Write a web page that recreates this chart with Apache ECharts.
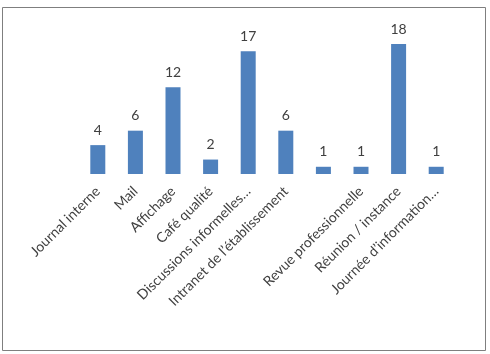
<!DOCTYPE html>
<html>
<head>
<meta charset="utf-8">
<script src="https://cdn.jsdelivr.net/npm/echarts@6/dist/echarts.min.js"></script>
<style>
  html, body { margin: 0; padding: 0; background: #fff; }
  #chart { width: 490px; height: 354px; }
</style>
</head>
<body>
<div id="chart"></div>
<script>
// libellés de l'axe (la 7e barre n'a pas de libellé visible)
const labels = [
  "Journal interne",
  "Mail",
  "Affichage",
  "Café qualité",
  "Discussions informelles…",
  "Intranet de l’établissement",
  "",
  "Revue professionnelle",
  "Réunion / instance",
  "Journée d’information…"
];
const values = [4, 6, 12, 2, 17, 6, 1, 1, 18, 1];

const chart = echarts.init(document.getElementById("chart"));

const option = {
  animation: false,
  textStyle: { fontFamily: "Lato" },
  grid: {
    left: 79,
    right: 35,
    top: 29.6,
    bottom: 180,
  },
  // cadre autour du graphique
  graphic: [
    {
      type: "rect",
      shape: { x: 2.5, y: 7.5, width: 483, height: 343 },
      style: { fill: null, stroke: "#7f7f7f", lineWidth: 1 },
    },
  ],
  xAxis: {
    type: "category",
    data: labels,
    axisLine: { show: false },
    axisTick: { show: false },
    axisLabel: {
      interval: 0,
      rotate: 45,
      margin: 15,
      color: "#404040",
      fontSize: 14,
      fontFamily: "Lato",
    },
  },
  yAxis: {
    type: "value",
    min: 0,
    max: 20,
    show: false,
    splitLine: { show: false },
  },
  series: [
    {
      type: "bar",
      data: values,
      barWidth: 15,
      itemStyle: { color: "#4F81BD" },
      label: {
        show: true,
        position: "top",
        distance: 8,
        color: "#404040",
        fontSize: 14,
        fontFamily: "Lato",
      },
    },
  ],
};

chart.setOption(option);
</script>
</body>
</html>
